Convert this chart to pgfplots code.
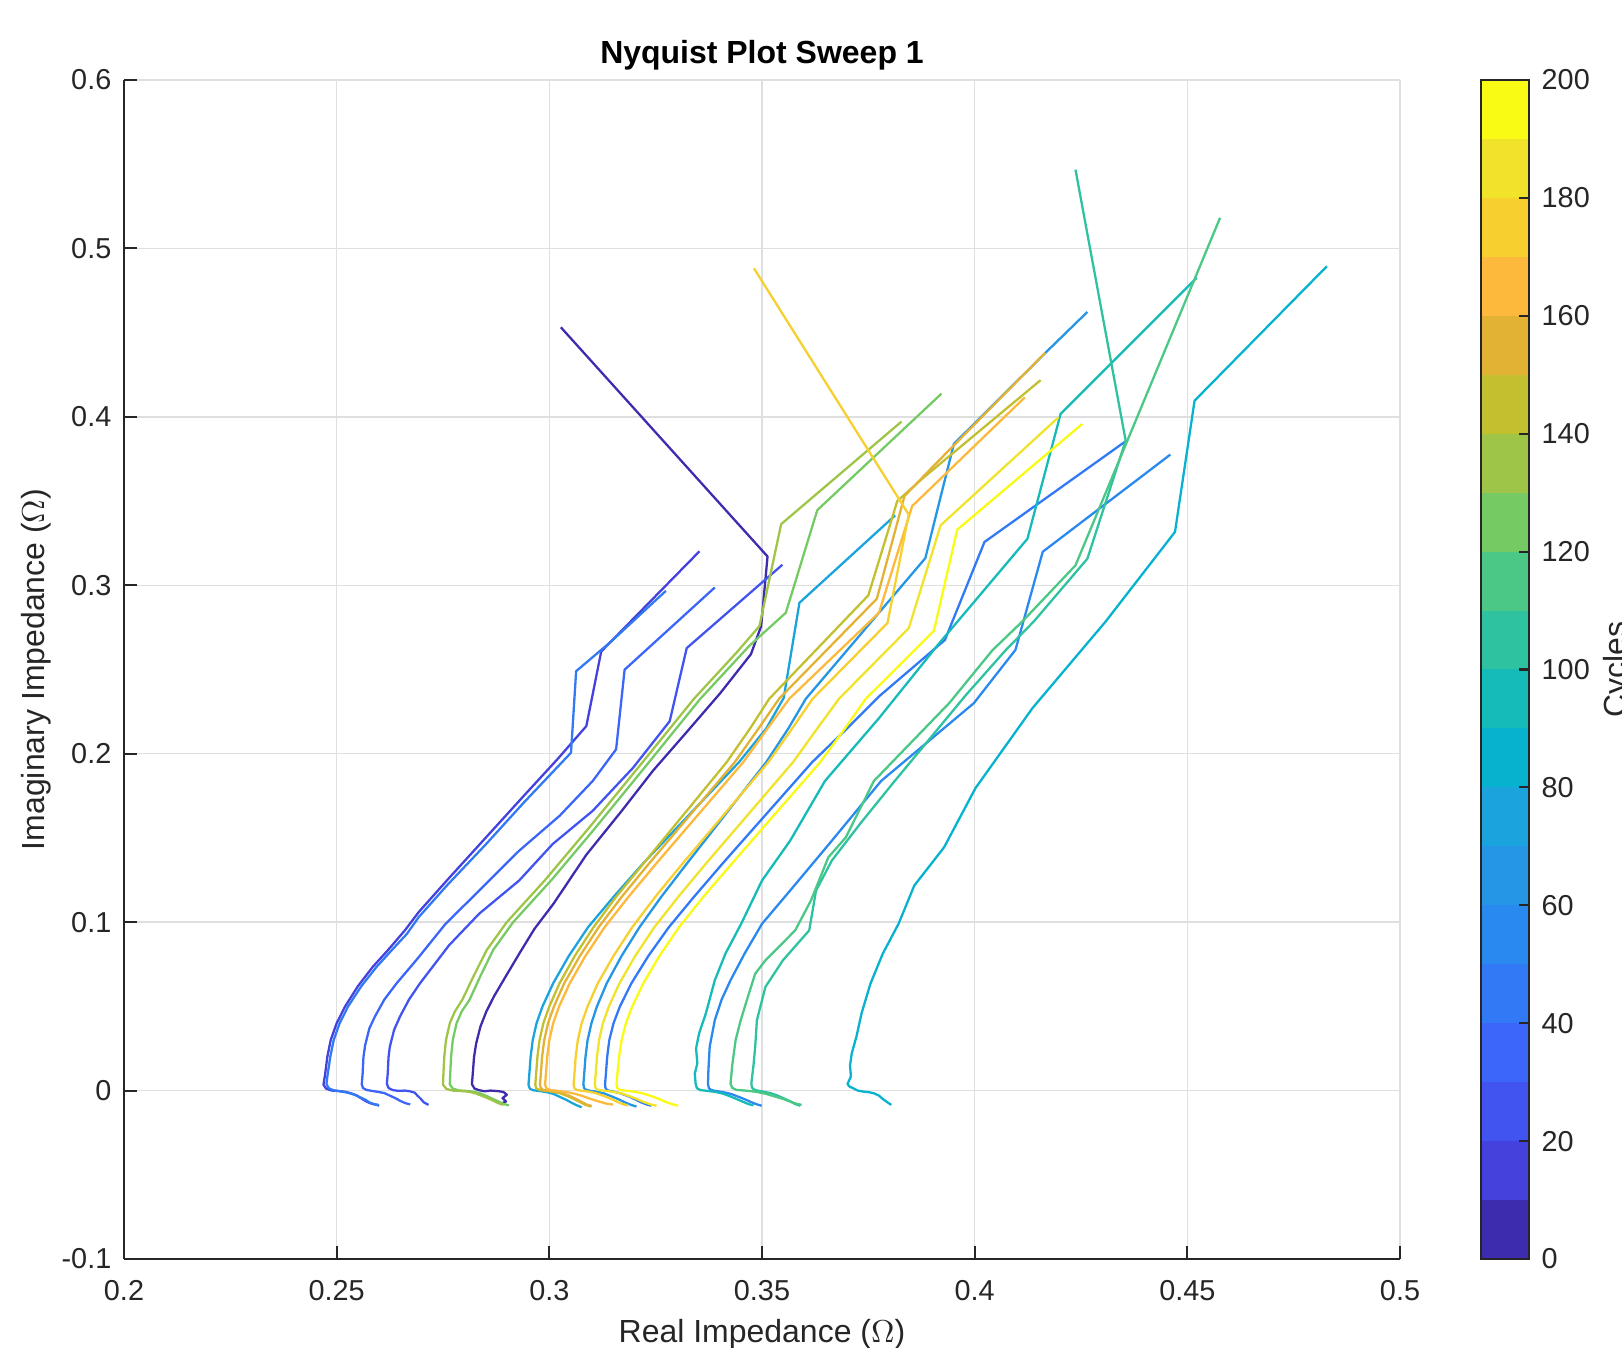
\documentclass[border=0pt]{standalone}
\usepackage{fontspec}
\setmainfont{Liberation Sans}
\usepackage{pgfplots}
\pgfplotsset{compat=1.18}

\definecolor{axisgray}{HTML}{262626}
\definecolor{gridgray}{HTML}{DFDFDF}
% 20-level colormap, 0..200 cycles
\definecolor{c00}{HTML}{3E2CAE}
\definecolor{c01}{HTML}{4541DC}
\definecolor{c02}{HTML}{4254EF}
\definecolor{c03}{HTML}{3C66F9}
\definecolor{c04}{HTML}{3279F5}
\definecolor{c05}{HTML}{2A89EE}
\definecolor{c06}{HTML}{2496E4}
\definecolor{c07}{HTML}{1BA3DD}
\definecolor{c08}{HTML}{07B2CF}
\definecolor{c09}{HTML}{14BBB9}
\definecolor{c10}{HTML}{2EC2A0}
\definecolor{c11}{HTML}{4BC786}
\definecolor{c12}{HTML}{76CA63}
\definecolor{c13}{HTML}{9FC548}
\definecolor{c14}{HTML}{C2C02E}
\definecolor{c15}{HTML}{E2B234}
\definecolor{c16}{HTML}{FCB93C}
\definecolor{c17}{HTML}{F7D02F}
\definecolor{c18}{HTML}{F1E32A}
\definecolor{c19}{HTML}{F9FB14}

\newcommand{\tickfont}{\fontsize{8.2}{9.8}\selectfont}
\newcommand{\labfont}{\fontsize{9.1}{10.9}\selectfont}

\begin{document}
\begin{tikzpicture}

\begin{axis}[
    at={(0,0)}, anchor=south west,
    scale only axis, width=12.76cm, height=11.79cm,
    xmin=0.2, xmax=0.5, ymin=-0.1, ymax=0.6,
    xtick={0.2,0.25,0.3,0.35,0.4,0.45,0.5},
    xticklabels={0.2,0.25,0.3,0.35,0.4,0.45,0.5},
    ytick={-0.1,0,0.1,0.2,0.3,0.4,0.5,0.6},
    yticklabels={-0.1,0,0.1,0.2,0.3,0.4,0.5,0.6},
    axis x line*=bottom, axis y line*=left,
    xtick pos=bottom, ytick pos=left,
    every outer x axis line/.append style={-},
    every outer y axis line/.append style={-},
    axis line style={-, line width=0.7pt, draw=axisgray},
    tick align=inside, major tick length=0.13cm,
    tick style={line width=0.6pt, draw=axisgray},
    grid=major, major grid style={line width=0.4pt, draw=gridgray},
    x tick label style={font=\tickfont, text=axisgray, inner sep=0pt, yshift=-0.21cm},
    y tick label style={font=\tickfont, text=axisgray, inner sep=0pt, xshift=-0.12cm},
    xlabel={Real Impedance ($\Omega$)},
    ylabel={Imaginary Impedance ($\Omega$)},
    xlabel style={font=\labfont, text=axisgray, inner sep=0pt, at={(axis description cs:0.5,0)}, anchor=north, yshift=-0.60cm},
    ylabel style={font=\labfont, text=axisgray, inner sep=0pt, at={(axis description cs:-0.069,0.5)}, anchor=center},
    title={Nyquist Plot Sweep 1},
    title style={font=\bfseries\fontsize{9.1}{10.9}\selectfont, inner sep=0pt, at={(axis description cs:0.5,1)}, anchor=base, yshift=-0.05cm},
    no markers,
    every axis plot/.append style={line width=0.65pt, line join=round},
]

% cycle 0
\addplot[c00] coordinates {
(0.2885,-0.0080) (0.2898,-0.0065) (0.2890,-0.0045) (0.2900,-0.0025) (0.2892,-0.0008)
(0.2878,-0.0003) (0.2862,0.0000) (0.2848,-0.0004) (0.2835,0.0002) (0.2824,0.0012) (0.2818,0.0038)
(0.2820,0.0100) (0.2823,0.0200) (0.2828,0.0280) (0.2838,0.0380) (0.2852,0.0470) (0.2870,0.0560)
(0.2898,0.0680) (0.2931,0.0820) (0.2965,0.0960) (0.3010,0.1110) (0.3087,0.1400) (0.3170,0.1660)
(0.3244,0.1900) (0.3320,0.2120) (0.3402,0.2360) (0.3474,0.2591) (0.3498,0.2758) (0.3513,0.3171)
(0.3027,0.4532)
};
% cycle 10
\addplot[c01] coordinates {
(0.2598,-0.0085) (0.2585,-0.0080) (0.2572,-0.0068) (0.2560,-0.0050) (0.2548,-0.0030)
(0.2535,-0.0018) (0.2522,-0.0008) (0.2505,-0.0003) (0.2488,0.0000) (0.2475,0.0012) (0.2469,0.0035)
(0.2473,0.0100) (0.2478,0.0200) (0.2486,0.0300) (0.2500,0.0400) (0.2520,0.0500) (0.2550,0.0620)
(0.2585,0.0735) (0.2621,0.0835) (0.2660,0.0950) (0.2693,0.1060) (0.2760,0.1250) (0.2850,0.1500)
(0.2940,0.1750) (0.3020,0.1970) (0.3087,0.2164) (0.3122,0.2607) (0.3353,0.3202)
};
% cycle 20
\addplot[c02] coordinates {
(0.2716,-0.0085) (0.2705,-0.0070) (0.2698,-0.0050) (0.2690,-0.0030) (0.2683,-0.0012)
(0.2672,-0.0004) (0.2660,0.0000) (0.2645,-0.0002) (0.2632,0.0003) (0.2622,0.0015) (0.2618,0.0040)
(0.2620,0.0100) (0.2622,0.0200) (0.2625,0.0260) (0.2635,0.0360) (0.2649,0.0440) (0.2670,0.0540)
(0.2696,0.0637) (0.2764,0.0862) (0.2835,0.1050) (0.2929,0.1247) (0.3008,0.1464) (0.3102,0.1661)
(0.3197,0.1917) (0.3283,0.2193) (0.3323,0.2627) (0.3548,0.3122)
};
% cycle 30
\addplot[c03] coordinates {
(0.2673,-0.0082) (0.2662,-0.0075) (0.2650,-0.0062) (0.2638,-0.0045) (0.2625,-0.0030)
(0.2612,-0.0015) (0.2598,-0.0008) (0.2583,-0.0002) (0.2570,0.0004) (0.2562,0.0015) (0.2559,0.0038)
(0.2561,0.0100) (0.2563,0.0200) (0.2567,0.0270) (0.2577,0.0370) (0.2590,0.0440) (0.2612,0.0540)
(0.2641,0.0637) (0.2690,0.0783) (0.2756,0.0990) (0.2835,0.1187) (0.2929,0.1424) (0.3024,0.1631)
(0.3102,0.1838) (0.3157,0.2026) (0.3177,0.2499) (0.3389,0.2987)
};
% cycle 40
\addplot[c04] coordinates {
(0.2600,-0.0090) (0.2590,-0.0082) (0.2578,-0.0072) (0.2568,-0.0055) (0.2555,-0.0040)
(0.2540,-0.0022) (0.2525,-0.0012) (0.2508,-0.0004) (0.2492,0.0002) (0.2481,0.0015) (0.2476,0.0040)
(0.2479,0.0100) (0.2485,0.0200) (0.2493,0.0300) (0.2507,0.0400) (0.2527,0.0500) (0.2558,0.0620)
(0.2594,0.0735) (0.2630,0.0835) (0.2665,0.0930) (0.2693,0.1030) (0.2760,0.1220) (0.2850,0.1460)
(0.2940,0.1710) (0.3000,0.1870) (0.3051,0.2006) (0.3063,0.2490) (0.3147,0.2670) (0.3274,0.2967)
};
% cycle 50
\addplot[c04] coordinates {
(0.3240,-0.0090) (0.3228,-0.0082) (0.3214,-0.0068) (0.3200,-0.0050) (0.3185,-0.0033)
(0.3168,-0.0017) (0.3152,-0.0007) (0.3140,-0.0001) (0.3134,0.0006) (0.3132,0.0016) (0.3131,0.0036)
(0.3133,0.0100) (0.3136,0.0200) (0.3141,0.0300) (0.3151,0.0400) (0.3166,0.0500) (0.3193,0.0637)
(0.3233,0.0800) (0.3281,0.0970) (0.3340,0.1150) (0.3408,0.1350) (0.3478,0.1550) (0.3548,0.1750)
(0.3618,0.1950) (0.3700,0.2150) (0.3775,0.2340) (0.3930,0.2675) (0.4023,0.3257) (0.4356,0.3857)
};
% cycle 60
\addplot[c05] coordinates {
(0.3499,-0.0090) (0.3488,-0.0082) (0.3474,-0.0068) (0.3460,-0.0052) (0.3444,-0.0036)
(0.3427,-0.0020) (0.3408,-0.0009) (0.3390,-0.0002) (0.3380,0.0004) (0.3375,0.0015) (0.3373,0.0040)
(0.3374,0.0120) (0.3377,0.0260) (0.3389,0.0418) (0.3405,0.0540) (0.3426,0.0655) (0.3459,0.0813)
(0.3500,0.0990) (0.3566,0.1187) (0.3664,0.1483) (0.3780,0.1838) (0.3998,0.2300) (0.4096,0.2617)
(0.4160,0.3199) (0.4460,0.3776)
};
% cycle 70
\addplot[c06] coordinates {
(0.3205,-0.0095) (0.3192,-0.0085) (0.3178,-0.0070) (0.3163,-0.0052) (0.3147,-0.0035)
(0.3130,-0.0018) (0.3113,-0.0007) (0.3097,-0.0002) (0.3087,0.0004) (0.3082,0.0014) (0.3080,0.0036)
(0.3082,0.0100) (0.3085,0.0200) (0.3090,0.0300) (0.3099,0.0400) (0.3112,0.0500) (0.3135,0.0637)
(0.3170,0.0800) (0.3212,0.0970) (0.3263,0.1150) (0.3324,0.1350) (0.3386,0.1550) (0.3448,0.1750)
(0.3510,0.1950) (0.3562,0.2150) (0.3603,0.2326) (0.3884,0.3161) (0.3951,0.3839) (0.4167,0.4382)
(0.4265,0.4623)
};
% cycle 80
\addplot[c07] coordinates {
(0.3076,-0.0099) (0.3065,-0.0088) (0.3052,-0.0072) (0.3040,-0.0055) (0.3025,-0.0038)
(0.3010,-0.0020) (0.2995,-0.0010) (0.2978,-0.0003) (0.2962,0.0002) (0.2954,0.0012) (0.2951,0.0035)
(0.2953,0.0100) (0.2956,0.0200) (0.2961,0.0300) (0.2970,0.0400) (0.2984,0.0500) (0.3009,0.0637)
(0.3046,0.0800) (0.3091,0.0970) (0.3151,0.1150) (0.3221,0.1350) (0.3296,0.1550) (0.3371,0.1750)
(0.3446,0.1950) (0.3510,0.2150) (0.3551,0.2331) (0.3588,0.2896) (0.3813,0.3415)
};
% cycle 90
\addplot[c08] coordinates {
(0.3804,-0.0085) (0.3795,-0.0070) (0.3784,-0.0050) (0.3775,-0.0030) (0.3763,-0.0016)
(0.3752,-0.0010) (0.3738,-0.0006) (0.3725,0.0000) (0.3714,0.0014) (0.3705,0.0025) (0.3701,0.0039)
(0.3709,0.0083) (0.3707,0.0150) (0.3711,0.0221) (0.3722,0.0320) (0.3734,0.0458) (0.3755,0.0635)
(0.3784,0.0813) (0.3821,0.0990) (0.3858,0.1217) (0.3928,0.1444) (0.4002,0.1796) (0.4136,0.2271)
(0.4308,0.2785) (0.4471,0.3317) (0.4517,0.4096) (0.4828,0.4894)
};
% cycle 100
\addplot[c09] coordinates {
(0.3480,-0.0088) (0.3468,-0.0080) (0.3455,-0.0066) (0.3440,-0.0050) (0.3425,-0.0034)
(0.3408,-0.0018) (0.3390,-0.0008) (0.3372,-0.0002) (0.3355,0.0003) (0.3347,0.0014) (0.3344,0.0040)
(0.3342,0.0100) (0.3348,0.0162) (0.3345,0.0250) (0.3352,0.0339) (0.3368,0.0458) (0.3389,0.0655)
(0.3414,0.0813) (0.3451,0.0990) (0.3500,0.1247) (0.3566,0.1483) (0.3648,0.1838) (0.3775,0.2211)
(0.3916,0.2654) (0.4124,0.3276) (0.4202,0.4017) (0.4522,0.4826)
};
% cycle 110
\addplot[c10] coordinates {
(0.3590,-0.0090) (0.3578,-0.0080) (0.3565,-0.0062) (0.3550,-0.0045) (0.3535,-0.0028)
(0.3518,-0.0014) (0.3500,-0.0005) (0.3488,0.0001) (0.3480,0.0008) (0.3476,0.0020) (0.3475,0.0045)
(0.3480,0.0150) (0.3484,0.0260) (0.3488,0.0418) (0.3508,0.0615) (0.3549,0.0773) (0.3611,0.0951)
(0.3627,0.1187) (0.3664,0.1365) (0.3730,0.1582) (0.3812,0.1838) (0.3980,0.2350) (0.4073,0.2615)
(0.4139,0.2785) (0.4265,0.3158) (0.4355,0.3859) (0.4237,0.5468)
};
% cycle 120
\addplot[c11] coordinates {
(0.3593,-0.0085) (0.3580,-0.0078) (0.3566,-0.0065) (0.3550,-0.0050) (0.3530,-0.0035)
(0.3510,-0.0020) (0.3488,-0.0008) (0.3465,-0.0001) (0.3440,0.0004) (0.3430,0.0016) (0.3426,0.0040)
(0.3430,0.0150) (0.3438,0.0300) (0.3450,0.0418) (0.3466,0.0550) (0.3484,0.0694) (0.3508,0.0773)
(0.3578,0.0951) (0.3615,0.1128) (0.3656,0.1385) (0.3697,0.1503) (0.3763,0.1838) (0.3940,0.2300)
(0.4042,0.2615) (0.4112,0.2785) (0.4237,0.3118) (0.4577,0.5182)
};
% cycle 130
\addplot[c12] coordinates {
(0.2905,-0.0088) (0.2893,-0.0080) (0.2880,-0.0065) (0.2866,-0.0048) (0.2852,-0.0032)
(0.2838,-0.0017) (0.2822,-0.0007) (0.2805,-0.0002) (0.2787,0.0001) (0.2773,0.0012) (0.2766,0.0036)
(0.2767,0.0100) (0.2769,0.0200) (0.2773,0.0300) (0.2782,0.0400) (0.2794,0.0470) (0.2812,0.0537)
(0.2838,0.0680) (0.2868,0.0835) (0.2915,0.1000) (0.3005,0.1250) (0.3105,0.1550) (0.3215,0.1890)
(0.3355,0.2326) (0.3470,0.2640) (0.3556,0.2837) (0.3630,0.3446) (0.3922,0.4138)
};
% cycle 140
\addplot[c13] coordinates {
(0.2892,-0.0085) (0.2880,-0.0075) (0.2868,-0.0060) (0.2855,-0.0045) (0.2840,-0.0030)
(0.2825,-0.0015) (0.2808,-0.0006) (0.2790,-0.0002) (0.2772,0.0000) (0.2758,0.0010) (0.2750,0.0035)
(0.2751,0.0100) (0.2753,0.0200) (0.2757,0.0300) (0.2766,0.0400) (0.2778,0.0470) (0.2795,0.0537)
(0.2822,0.0680) (0.2853,0.0835) (0.2900,0.1000) (0.2990,0.1250) (0.3090,0.1550) (0.3200,0.1890)
(0.3340,0.2326) (0.3440,0.2600) (0.3494,0.2758) (0.3545,0.3363) (0.3828,0.3972)
};
% cycle 150
\addplot[c14] coordinates {
(0.3098,-0.0095) (0.3085,-0.0085) (0.3072,-0.0068) (0.3058,-0.0050) (0.3042,-0.0032)
(0.3025,-0.0016) (0.3008,-0.0007) (0.2990,-0.0001) (0.2976,0.0004) (0.2969,0.0014) (0.2967,0.0036)
(0.2969,0.0100) (0.2972,0.0200) (0.2977,0.0300) (0.2986,0.0400) (0.3000,0.0500) (0.3024,0.0637)
(0.3060,0.0800) (0.3104,0.0970) (0.3157,0.1150) (0.3222,0.1350) (0.3287,0.1550) (0.3352,0.1750)
(0.3417,0.1950) (0.3472,0.2150) (0.3517,0.2326) (0.3750,0.2940) (0.3818,0.3500) (0.3880,0.3640)
(0.4155,0.4218)
};
% cycle 160
\addplot[c15] coordinates {
(0.3100,-0.0092) (0.3088,-0.0083) (0.3075,-0.0066) (0.3062,-0.0049) (0.3047,-0.0031)
(0.3032,-0.0016) (0.3015,-0.0006) (0.2998,-0.0001) (0.2986,0.0004) (0.2980,0.0014) (0.2978,0.0036)
(0.2980,0.0100) (0.2983,0.0200) (0.2988,0.0300) (0.2997,0.0400) (0.3011,0.0500) (0.3035,0.0637)
(0.3072,0.0800) (0.3116,0.0970) (0.3170,0.1150) (0.3235,0.1350) (0.3302,0.1550) (0.3369,0.1750)
(0.3436,0.1950) (0.3492,0.2150) (0.3540,0.2326) (0.3770,0.2920) (0.3835,0.3530) (0.3900,0.3700)
(0.4166,0.4381)
};
% cycle 170
\addplot[c16] coordinates {
(0.3150,-0.0083) (0.3135,-0.0078) (0.3118,-0.0066) (0.3100,-0.0052) (0.3082,-0.0036)
(0.3062,-0.0020) (0.3042,-0.0009) (0.3020,-0.0002) (0.3002,0.0003) (0.2993,0.0013) (0.2990,0.0036)
(0.2992,0.0100) (0.2995,0.0200) (0.3000,0.0300) (0.3009,0.0400) (0.3023,0.0500) (0.3048,0.0637)
(0.3085,0.0800) (0.3130,0.0970) (0.3186,0.1150) (0.3252,0.1350) (0.3320,0.1550) (0.3388,0.1750)
(0.3456,0.1950) (0.3513,0.2150) (0.3564,0.2326) (0.3775,0.2837) (0.3853,0.3470) (0.4118,0.4116)
};
% cycle 180
\addplot[c17] coordinates {
(0.3185,-0.0088) (0.3172,-0.0080) (0.3158,-0.0065) (0.3144,-0.0048) (0.3128,-0.0032)
(0.3110,-0.0016) (0.3092,-0.0006) (0.3075,-0.0001) (0.3064,0.0004) (0.3059,0.0014) (0.3057,0.0036)
(0.3059,0.0100) (0.3062,0.0200) (0.3067,0.0300) (0.3076,0.0400) (0.3090,0.0500) (0.3114,0.0637)
(0.3151,0.0800) (0.3195,0.0970) (0.3249,0.1150) (0.3314,0.1350) (0.3381,0.1550) (0.3448,0.1750)
(0.3515,0.1950) (0.3571,0.2150) (0.3619,0.2326) (0.3795,0.2776) (0.3845,0.3420) (0.3481,0.4882)
};
% cycle 190
\addplot[c18] coordinates {
(0.3252,-0.0090) (0.3238,-0.0082) (0.3222,-0.0068) (0.3206,-0.0050) (0.3188,-0.0033)
(0.3170,-0.0017) (0.3150,-0.0007) (0.3130,-0.0001) (0.3115,0.0004) (0.3109,0.0014) (0.3107,0.0036)
(0.3109,0.0100) (0.3112,0.0200) (0.3117,0.0300) (0.3126,0.0400) (0.3140,0.0500) (0.3165,0.0637)
(0.3202,0.0800) (0.3247,0.0970) (0.3303,0.1150) (0.3369,0.1350) (0.3437,0.1550) (0.3505,0.1750)
(0.3573,0.1950) (0.3630,0.2150) (0.3681,0.2326) (0.3845,0.2745) (0.3920,0.3356) (0.4197,0.3997)
};
% cycle 200
\addplot[c19] coordinates {
(0.3303,-0.0090) (0.3290,-0.0082) (0.3274,-0.0068) (0.3258,-0.0050) (0.3240,-0.0033)
(0.3220,-0.0017) (0.3200,-0.0007) (0.3180,-0.0001) (0.3166,0.0004) (0.3160,0.0014) (0.3158,0.0036)
(0.3160,0.0100) (0.3164,0.0200) (0.3170,0.0300) (0.3180,0.0400) (0.3195,0.0500) (0.3221,0.0637)
(0.3259,0.0800) (0.3305,0.0970) (0.3362,0.1150) (0.3430,0.1350) (0.3499,0.1550) (0.3568,0.1750)
(0.3637,0.1950) (0.3695,0.2150) (0.3744,0.2326) (0.3904,0.2729) (0.3959,0.3330) (0.4253,0.3958)
};

\end{axis}

% colour bar
\begin{axis}[
    at={(13.57cm,0)}, anchor=south west,
    scale only axis, width=0.48cm, height=11.79cm,
    xmin=0, xmax=1, ymin=0, ymax=200,
    xtick=\empty,
    ytick={0,20,40,60,80,100,120,140,160,180,200},
    yticklabels={0,20,40,60,80,100,120,140,160,180,200},
    ytick pos=right, yticklabel pos=right,
    tick align=inside, major tick length=0.1cm,
    tick style={line width=0.6pt, draw=axisgray},
    axis line style={line width=0.7pt, draw=axisgray},
    axis on top,
    y tick label style={font=\tickfont, text=axisgray, inner sep=0pt, xshift=0.12cm},
    every axis plot/.append style={draw=none, mark=none, forget plot},
]
\addplot[fill=c00] coordinates {(0,0) (1,0) (1,10) (0,10)};
\addplot[fill=c01] coordinates {(0,10) (1,10) (1,20) (0,20)};
\addplot[fill=c02] coordinates {(0,20) (1,20) (1,30) (0,30)};
\addplot[fill=c03] coordinates {(0,30) (1,30) (1,40) (0,40)};
\addplot[fill=c04] coordinates {(0,40) (1,40) (1,50) (0,50)};
\addplot[fill=c05] coordinates {(0,50) (1,50) (1,60) (0,60)};
\addplot[fill=c06] coordinates {(0,60) (1,60) (1,70) (0,70)};
\addplot[fill=c07] coordinates {(0,70) (1,70) (1,80) (0,80)};
\addplot[fill=c08] coordinates {(0,80) (1,80) (1,90) (0,90)};
\addplot[fill=c09] coordinates {(0,90) (1,90) (1,100) (0,100)};
\addplot[fill=c10] coordinates {(0,100) (1,100) (1,110) (0,110)};
\addplot[fill=c11] coordinates {(0,110) (1,110) (1,120) (0,120)};
\addplot[fill=c12] coordinates {(0,120) (1,120) (1,130) (0,130)};
\addplot[fill=c13] coordinates {(0,130) (1,130) (1,140) (0,140)};
\addplot[fill=c14] coordinates {(0,140) (1,140) (1,150) (0,150)};
\addplot[fill=c15] coordinates {(0,150) (1,150) (1,160) (0,160)};
\addplot[fill=c16] coordinates {(0,160) (1,160) (1,170) (0,170)};
\addplot[fill=c17] coordinates {(0,170) (1,170) (1,180) (0,180)};
\addplot[fill=c18] coordinates {(0,180) (1,180) (1,190) (0,190)};
\addplot[fill=c19] coordinates {(0,190) (1,190) (1,200) (0,200)};
\end{axis}

% colour bar label, partly beyond the right edge as in the reference
\node[rotate=90, anchor=north, inner sep=0pt, font=\labfont, text=axisgray] at (14.79,5.895) {Cycles};

\pgfresetboundingbox
\path[use as bounding box] (-1.24,-0.89) rectangle (14.98,12.59);
\end{tikzpicture}
\end{document}
